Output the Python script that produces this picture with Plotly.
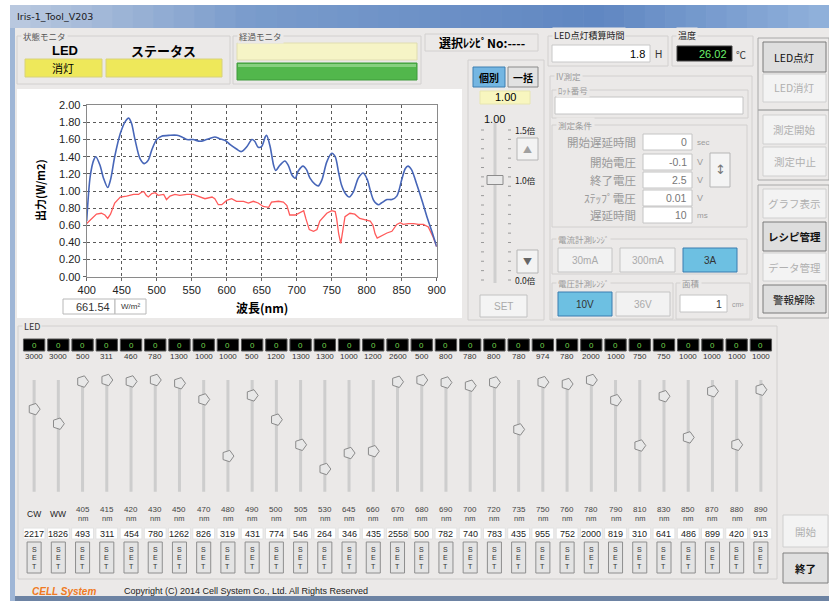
import plotly.graph_objects as go

# ---------------- DATA ----------------
blue_wl = [400, 405, 410, 413, 419, 424, 430, 434, 440, 448, 455, 460, 464, 469, 476, 482, 488, 493, 500, 507, 519, 529, 536, 543, 552, 562, 571, 583, 590, 598, 605, 614, 621, 629, 636, 640, 645, 650, 655, 657, 662, 667, 670, 676, 683, 688, 693, 698, 702, 709, 714, 719, 726, 731, 736, 743, 750, 755, 760, 764, 770, 775, 781, 788, 795, 801, 805, 810, 817, 821, 829, 836, 843, 850, 855, 859, 864, 871, 879, 886, 893, 900]
blue_val = [0.65, 1.17, 1.36, 1.40, 1.30, 1.15, 1.04, 1.13, 1.40, 1.67, 1.81, 1.85, 1.79, 1.60, 1.38, 1.32, 1.36, 1.48, 1.60, 1.64, 1.65, 1.65, 1.63, 1.60, 1.60, 1.58, 1.60, 1.63, 1.61, 1.59, 1.54, 1.49, 1.46, 1.52, 1.60, 1.58, 1.51, 1.52, 1.63, 1.65, 1.52, 1.30, 1.24, 1.30, 1.35, 1.30, 1.19, 1.15, 1.23, 1.29, 1.25, 1.15, 1.08, 1.06, 1.13, 1.34, 1.44, 1.40, 1.21, 1.07, 0.965, 0.93, 0.99, 1.15, 1.21, 1.13, 1.01, 0.89, 0.84, 0.86, 0.90, 0.90, 0.94, 1.13, 1.26, 1.29, 1.25, 1.09, 0.89, 0.70, 0.53, 0.35]

red_wl = [400, 407, 414, 421, 426, 430, 434, 440, 448, 457, 467, 474, 479, 482, 485, 488, 493, 498, 502, 510, 514, 519, 526, 533, 543, 552, 562, 569, 579, 583, 588, 593, 600, 607, 614, 624, 631, 638, 645, 652, 660, 664, 674, 681, 686, 690, 698, 705, 710, 713, 718, 724, 729, 733, 743, 750, 755, 757, 760, 763, 766, 769, 776, 783, 790, 798, 805, 809, 812, 815, 821, 829, 836, 843, 848, 852, 860, 867, 874, 881, 888, 895, 900]
red_val = [0.62, 0.68, 0.73, 0.74, 0.72, 0.68, 0.73, 0.86, 0.93, 0.94, 0.96, 0.96, 0.99, 0.99, 0.95, 0.93, 0.97, 0.98, 0.95, 0.96, 0.90, 0.94, 0.96, 0.95, 0.96, 0.96, 0.93, 0.91, 0.93, 0.91, 0.84, 0.84, 0.89, 0.91, 0.88, 0.88, 0.86, 0.88, 0.86, 0.82, 0.81, 0.87, 0.88, 0.87, 0.83, 0.72, 0.72, 0.75, 0.77, 0.68, 0.55, 0.53, 0.55, 0.65, 0.74, 0.77, 0.76, 0.68, 0.50, 0.39, 0.55, 0.70, 0.74, 0.73, 0.68, 0.66, 0.65, 0.60, 0.50, 0.45, 0.48, 0.51, 0.53, 0.61, 0.63, 0.61, 0.62, 0.62, 0.61, 0.61, 0.58, 0.46, 0.35]

led_names = ["CW", "WW", "405", "415", "420", "430", "450", "470", "480", "490", "500", "505", "530", "645", "660",
             "670", "680", "690", "700", "720", "735", "750", "760", "780", "790", "810", "830", "850", "870", "880", "890"]
led_max = [3000, 3000, 500, 311, 460, 780, 1300, 1000, 1000, 500, 1200, 1300, 1300, 1000, 1200, 2600,
           500, 800, 780, 800, 780, 974, 780, 2000, 1000, 750, 750, 1000, 1000, 1000, 1000]
led_set = [2217, 1826, 493, 311, 454, 780, 1262, 826, 319, 431, 774, 546, 264, 346, 435, 2558,
           500, 782, 740, 783, 435, 955, 752, 2000, 819, 310, 641, 486, 899, 420, 913]
led_now = [0] * 31

x_ticks = [400, 450, 500, 550, 600, 650, 700, 750, 800, 850, 900]
total_power = "661.54"
ratio_value = 1.00
ratio_max = 1.5

# ---------------- HELPERS ----------------
W, H = 829, 601
BG = "#ebe9e8"
JP = "Noto Sans CJK JP"
LAT = "Liberation Sans"
shapes, annos = [], []


def px(x):
    return x / W


def py(y):
    return 1 - y / H


def rect(x0, y0, x1, y1, fill="rgba(0,0,0,0)", line=None, lw=1, xref="paper"):
    shapes.append(dict(type="rect", xref=xref, yref="paper",
                       x0=px(x0) if xref == "paper" else x0, x1=px(x1) if xref == "paper" else x1,
                       y0=py(y1), y1=py(y0),
                       fillcolor=fill, line=dict(color=line or "rgba(0,0,0,0)", width=lw if line else 0),
                       layer="below"))


def text(x, y, s, size=10, color="#000", anchor="center", family=JP, angle=0, bg=None, xref="paper"):
    d = dict(xref=xref, yref="paper", x=px(x) if xref == "paper" else x, y=py(y), text=s, showarrow=False,
             xanchor=anchor, yanchor="middle", font=dict(size=size, color=color, family=family), textangle=angle)
    if bg:
        d["bgcolor"] = bg
    annos.append(d)


def box(x0, y0, x1, y1, s, fill, border, size=10, color="#000", family=JP, align="center"):
    rect(x0, y0, x1, y1, fill, border)
    if s:
        if align == "right":
            text(x1 - 3, (y0 + y1) / 2, s, size=size, color=color, anchor="right", family=family)
        else:
            text((x0 + x1) / 2, (y0 + y1) / 2, s, size=size, color=color, family=family)


def group(x0, y0, x1, y1, label=None, lx=None, size=9, color="#555"):
    rect(x0, y0, x1, y1, line="#d2d0cf")
    if label:
        text(lx if lx is not None else x0 + 4, y0, label, size=size, color=color, anchor="left", bg=BG)


# ---------------- WINDOW CHROME ----------------
rect(0, 0, W, H, fill="#ffffff")
rect(10, 5, W, 601, fill="#9fb6d6")
stops = [(10, (188, 203, 224)), (250, (122, 156, 204)), (600, (96, 135, 194)), (829, (146, 178, 220))]
n = 40
for k in range(n):
    xa = 10 + (W - 10) * k / n
    xb = 10 + (W - 10) * (k + 1) / n + 0.5
    xm = (xa + xb) / 2
    c = stops[0][1]
    for j in range(len(stops) - 1):
        if stops[j][0] <= xm <= stops[j + 1][0]:
            t = (xm - stops[j][0]) / (stops[j + 1][0] - stops[j][0])
            c = [int(stops[j][1][m] + t * (stops[j + 1][1][m] - stops[j][1][m])) for m in range(3)]
    rect(xa, 5, min(xb, W), 28, fill="rgb(%d,%d,%d)" % tuple(c))
rect(15, 28, W, 596, fill=BG)
rect(15, 596, W, 601, fill="#6d83a3")
text(15, 17, "Iris-1_Tool_V203", size=9.5, color="#1a1a1a", anchor="left", family="DejaVu Sans")

# ---------------- TOP PANELS ----------------
group(17, 36, 230, 84, "状態モニタ", size=8.5)
text(65, 50, "<b>LED</b>", size=13, family=LAT)
text(163, 50, "<b>ステータス</b>", size=13)
box(25, 59, 102, 77, "消灯", "#eee85a", "#d8d27a", size=11)
box(106, 59, 222, 77, "", "#eee85a", "#d8d27a")

group(233, 36, 421, 84, "経過モニタ", size=8.5)
box(237, 43, 417, 60, "", "#f6f4c6", "#e0ddb0")
box(237, 63, 417, 80, "", "#52b74c", "#3f9a3a")
rect(238, 64, 416, 67, fill="#86d07f")

box(425, 34, 538, 51, "<b>選択ﾚｼﾋﾟNo:----</b>", "#ebe9e8", "#d2d0cf", size=12)

group(548, 36, 668, 66, "LED点灯積算時間", size=9, color="#222")
box(552, 45, 650, 62, "1.8", "#ffffff", "#c8c8c8", size=11, family=LAT, align="right")
text(658, 54, "H", size=10, color="#333", family=LAT)
group(672, 36, 753, 66, "温度", size=9, color="#222")
box(677, 46, 732, 61, "26.02", "#000000", "#444", size=11, color="#6cf06c", family=LAT, align="right")
text(741, 54, "℃", size=10, color="#333")

# ---------------- CHART PANEL ----------------
rect(17, 89, 462, 318, fill="#ffffff")
box(63, 299, 115, 314, total_power, "#ffffff", "#b8b8b8", size=11, family=LAT, color="#333", align="right")
box(115, 299, 146, 314, "W/m²", "#ffffff", "#b8b8b8", size=8, family=LAT, color="#333")
text(40, 190, "<b>出力(W/m2)</b>", size=11, angle=-90)
text(262, 307, "<b>波長(nm)</b>", size=12)

# ---------------- RATIO PANEL ----------------
group(468, 60, 544, 320)
box(473, 67, 505, 87, "<b>個別</b>", "#74b6e2", "#3c7fb1", size=10)
box(508, 67, 538, 87, "<b>一括</b>", "#e2e2e2", "#8a8a8a", size=10)
box(480, 91, 530, 104, "%.2f" % ratio_value, "#f8f6bf", "#e8e6b0", size=11, family=LAT)
text(494, 119, "%.2f" % ratio_value, size=11, family=LAT, color="#111")
track_top, track_bot = 130, 280
shapes.append(dict(type="line", xref="paper", yref="paper", x0=px(495), x1=px(495), y0=py(track_bot + 3),
                   y1=py(track_top - 7), line=dict(color="#cfcfcf", width=3), layer="below"))
for k in range(17):
    yy = track_top + k * (track_bot - track_top) / 16
    for xx in (481, 508):
        shapes.append(dict(type="line", xref="paper", yref="paper", x0=px(xx), x1=px(xx + 3), y0=py(yy), y1=py(yy),
                           line=dict(color="#9a9a9a", width=1), layer="below"))
ty = track_bot - ratio_value / ratio_max * (track_bot - track_top)
box(487, ty - 4.5, 503, ty + 4.5, "", "#e9e9e9", "#8c8c8c")
text(513, track_top, "1.5倍", size=8.5, anchor="left", color="#222")
text(513, ty, "1.0倍", size=8.5, anchor="left", color="#222")
text(513, track_bot, "0.0倍", size=8.5, anchor="left", color="#222")
box(517, 138, 538, 160, "▲", "#f3f3f3", "#b5b5b5", size=9, color="#a0a0a0")
box(517, 250, 538, 273, "▼", "#f3f3f3", "#b5b5b5", size=9, color="#666")
box(480, 295, 527, 317, "SET", "#f4f4f4", "#c2c2c2", size=10, family=LAT, color="#aaaaaa")

# ---------------- IV PANEL ----------------
DIS = "#9a9a9a"
group(550, 76, 752, 320, "IV測定", size=8.5, color=DIS)
group(552, 90, 748, 118, "ﾛｯﾄ番号", size=8.5, color=DIS)
box(555, 97, 743, 114, "", "#ffffff", "#c4c4c4")
group(552, 125, 747, 227, "測定条件", size=8.5, color=DIS)
iv_rows = [("開始遅延時間", "0", "sec", 142), ("開始電圧", "-0.1", "V", 162), ("終了電圧", "2.5", "V", 180),
           ("ｽﾃｯﾌﾟ電圧", "0.01", "V", 198), ("遅延時間", "10", "ms", 215)]
for lab, val, unit, yy in iv_rows:
    text(638, yy, lab, size=11.5, anchor="right", color=DIS)
    box(643, yy - 8, 692, yy + 8, val, "#ffffff", "#c4c4c4", size=10.5, family=LAT, color="#777", align="right")
    text(695, yy, unit, size=8 if unit != "V" else 9, anchor="left", color=DIS, family=LAT)
box(710, 153, 730, 187, "↕", "#f4f4f4", "#b5b5b5", size=13, color="#777", family="DejaVu Sans")
group(552, 239, 747, 274, "電流計測ﾚﾝｼﾞ", size=8.5, color=DIS)
box(558, 248, 612, 272, "30mA", "#f2f2f2", "#c4c4c4", size=10, family=LAT, color="#aaaaaa")
box(620, 248, 675, 272, "300mA", "#f2f2f2", "#c4c4c4", size=10, family=LAT, color="#aaaaaa")
box(683, 248, 737, 272, "3A", "#6dc0e2", "#3a7db0", size=10, family=LAT, color="#333")
group(552, 283, 673, 319, "電圧計測ﾚﾝｼﾞ", size=8.5, color=DIS)
box(558, 292, 612, 316, "10V", "#6dc0e2", "#3a7db0", size=10, family=LAT, color="#333")
box(616, 292, 670, 316, "36V", "#f2f2f2", "#c4c4c4", size=10, family=LAT, color="#aaaaaa")
group(676, 283, 750, 319, "面積", size=8.5, color=DIS)
box(680, 295, 727, 312, "1", "#ffffff", "#c4c4c4", size=10.5, family=LAT, color="#333", align="right")
text(730, 304, "cm²", size=7, anchor="left", color=DIS, family=LAT)

# ---------------- RIGHT BUTTONS ----------------
rect(758, 38, 829, 110, line="#a8a8a8")
rect(758, 110, 829, 180, line="#a8a8a8")
rect(758, 185, 829, 318, line="#a8a8a8")
btns = [("LED点灯", 42, 72, True), ("LED消灯", 74, 102, False), ("測定開始", 115, 144, False),
        ("測定中止", 147, 176, False), ("グラフ表示", 189, 218, False), ("レシピ管理", 222, 251, True),
        ("データ管理", 253, 281, False), ("警報解除", 285, 313, True)]
for lab, y0, y1, act in btns:
    if act:
        box(763, y0, 826, y1, "<b>" + lab + "</b>" if lab == "レシピ管理" else lab, "#dedede", "#7a7a7a",
            size=10.5, color="#111")
    else:
        box(763, y0, 826, y1, lab, "#f3f3f3", "#cfcfcf", size=10.5, color="#b0b0b0")

# ---------------- LED PANEL ----------------
group(18, 326, 777, 579, "LED", size=9, color="#333")
NL = len(led_names)
for i in range(NL):
    rect(i - 0.44, 339, i + 0.44, 351, "#000000", "#555555", xref="x2")
    text(i, 345, str(led_now[i]), size=8, color="#74d34c", family=LAT, xref="x2")
    text(i, 356.5, str(led_max[i]), size=8, color="#333", family=LAT, xref="x2")
    nm = led_names[i]
    if nm.isdigit():
        text(i, 509, nm, size=8, color="#444", family=LAT, xref="x2")
        text(i, 518.5, "nm", size=7.5, color="#444", family=LAT, xref="x2")
    else:
        text(i, 514, nm, size=8.5, color="#222", family=LAT, xref="x2")
    rect(i - 0.45, 528, i + 0.45, 539, "#ffffff", "#e2e2e2", xref="x2")
    text(i, 533.5, str(led_set[i]), size=9, color="#222", family=LAT, xref="x2")
    rect(i - 0.29, 542, i + 0.29, 573, "#e4e4e4", "#8e8e8e", xref="x2")
    for k, ch in enumerate("SET"):
        text(i, 549 + k * 8.5, ch, size=7, color="#333", family=LAT, xref="x2")

box(783, 515, 828, 547, "開始", "#f3f3f3", "#cfcfcf", size=10.5, color="#b0b0b0")
box(783, 553, 828, 583, "<b>終了</b>", "#e0e0e0", "#808080", size=10.5, color="#111")

# ---------------- STATUS BAR ----------------
text(30, 591, "<b><i>CELL System</i></b>", size=10, color="#f07a22", anchor="left", family=LAT)
text(122, 591, "Copyright (C) 2014 Cell System Co., Ltd. All Rights Reserved", size=9, color="#222",
     anchor="left", family=LAT)

# ---------------- TRACES ----------------
fig = go.Figure()
fig.add_trace(go.Scatter(x=red_wl, y=red_val, mode="lines", line=dict(color="#ff5a5a", width=1.3),
                         xaxis="x", yaxis="y", hoverinfo="skip"))
fig.add_trace(go.Scatter(x=blue_wl, y=blue_val, mode="lines", line=dict(color="#4766b8", width=1.6,
                         shape="spline", smoothing=0.8), xaxis="x", yaxis="y", hoverinfo="skip"))

tx, tyv = [], []
for i in range(NL):
    tx += [i, i, None]
    tyv += [-0.035, 1.04, None]
fig.add_trace(go.Scatter(x=tx, y=tyv, mode="lines", line=dict(color="#cdcdcd", width=3), xaxis="x2", yaxis="y2",
                         hoverinfo="skip", cliponaxis=False))
frac = [s / m for s, m in zip(led_set, led_max)]
fig.add_trace(go.Scatter(x=list(range(NL)), y=frac, mode="markers", xaxis="x2", yaxis="y2", hoverinfo="skip",
                         cliponaxis=False,
                         marker=dict(symbol="pentagon", angle=90, size=12, color="#e8e8e8",
                                     line=dict(color="#8a8a8a", width=1))))

fig.update_layout(
    width=W, height=H, margin=dict(l=0, r=0, t=0, b=0, pad=0, autoexpand=False), showlegend=False,
    paper_bgcolor="#ffffff", plot_bgcolor="rgba(0,0,0,0)",
    xaxis=dict(domain=[px(86.7), px(436.7)], range=[400, 900], tickvals=x_ticks, showgrid=True,
               gridcolor="#5a5a5a", griddash="dot", gridwidth=1, zeroline=False, showline=True, mirror=True,
               linecolor="#8a8a8a", ticks="outside", ticklen=3, tickcolor="#666", automargin=False,
               tickfont=dict(size=11, family=LAT, color="#222"), anchor="y", fixedrange=True),
    yaxis=dict(domain=[py(276.7), py(105.3)], range=[0, 2], dtick=0.2, tickformat=".2f", showgrid=True,
               gridcolor="#5a5a5a", griddash="dot", gridwidth=1, zeroline=False, showline=True, mirror=True,
               linecolor="#8a8a8a", ticks="outside", ticklen=3, tickcolor="#666", automargin=False,
               tickfont=dict(size=11, family=LAT, color="#222"), anchor="x", fixedrange=True),
    xaxis2=dict(domain=[px(22), px(773)], range=[-0.5, NL - 0.5], visible=False, anchor="y2", automargin=False),
    yaxis2=dict(domain=[py(491.7), py(380)], range=[0, 1], visible=False, anchor="x2", automargin=False),
    shapes=shapes, annotations=annos,
)

fig.write_html("out.html", config={"displayModeBar": False},
               post_script="document.body.style.margin='0';document.body.style.overflow='hidden';")
